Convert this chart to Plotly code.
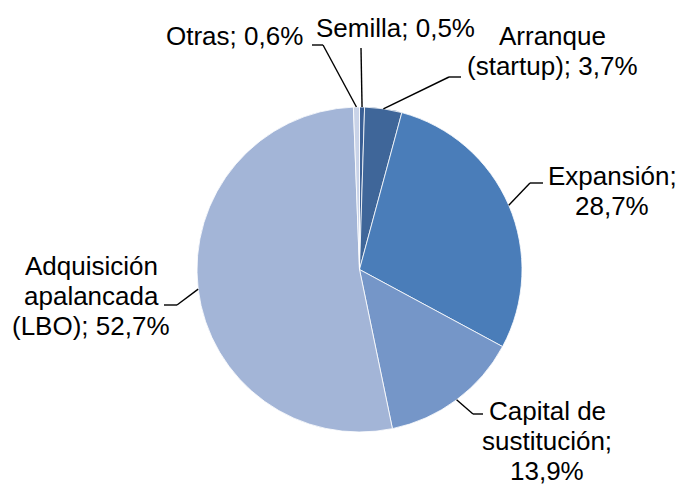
import math
import plotly.graph_objects as go

# ---- data ----
categories = ["Semilla", "Arranque (startup)", "Expansión", "Capital de sustitución",
              "Adquisición apalancada (LBO)", "Otras"]
values = [0.5, 3.7, 28.7, 13.9, 52.7, 0.6]
label_lines = [
    ["Semilla; 0,5%"],
    ["Arranque", "(startup); 3,7%"],
    ["Expansión;", "28,7%"],
    ["Capital de", "sustitución;", "13,9%"],
    ["Adquisición", "apalancada", "(LBO); 52,7%"],
    ["Otras; 0,6%"],
]
colors = ["#3A5F94", "#3F6699", "#4A7DB9", "#7596C8", "#A3B5D7", "#C9D3E8"]

# ---- layout constants (pixels) ----
W, H = 680, 485
CX, CY, R = 359.5, 269.5, 162.5
FONT_SIZE = 26
LINE_GAP = 30
# per label: (elbow point, end of horizontal segment, centre x, centre y of first line)
label_layout = [
    ((361, 48), (361, 48), 395, 28),
    ((449, 77), (461, 77), 552, 36.5),
    ((530, 183), (543, 183), 612, 176),
    ((473, 414), (483, 414), 547, 411),
    ((177, 305), (164, 305), 91, 266),
    ((323, 45), (312, 45), 234.5, 36),
]

def px(x):
    return x / W

def py(y):
    return 1 - y / H

fig = go.Figure()
fig.add_trace(go.Pie(
    labels=categories, values=values, sort=False, direction="clockwise", rotation=0,
    marker=dict(colors=colors, line=dict(color="white", width=0.8)),
    textinfo="none", hoverinfo="label+percent", showlegend=False,
    domain=dict(x=[px(CX - R), px(CX + R)], y=[py(CY + R), py(CY - R)]),
))

total = sum(values)
cum = 0.0
shapes = []
annotations = []
for v, lines, (elbow, end, tx, ty) in zip(values, label_lines, label_layout):
    mid = (cum + v / 2) / total * 2 * math.pi
    cum += v
    ax = CX + R * math.sin(mid)
    ay = CY - R * math.cos(mid)
    line = dict(color="black", width=1.4)
    shapes.append(dict(type="line", xref="paper", yref="paper",
                       x0=px(ax), y0=py(ay), x1=px(elbow[0]), y1=py(elbow[1]), line=line))
    if end != elbow:
        shapes.append(dict(type="line", xref="paper", yref="paper",
                           x0=px(elbow[0]), y0=py(elbow[1]), x1=px(end[0]), y1=py(end[1]), line=line))
    for i, txt in enumerate(lines):
        annotations.append(dict(text=txt, xref="paper", yref="paper",
                                x=px(tx), y=py(ty + i * LINE_GAP),
                                xanchor="center", yanchor="middle", showarrow=False,
                                font=dict(family="Liberation Sans, Arial, sans-serif",
                                          size=FONT_SIZE, color="black")))

fig.update_layout(
    width=W, height=H, margin=dict(l=0, r=0, t=0, b=0),
    paper_bgcolor="white", plot_bgcolor="white",
    shapes=shapes, annotations=annotations,
)
fig.write_html("out.html", config={"displayModeBar": False},
               post_script="document.body.style.margin='0';")
